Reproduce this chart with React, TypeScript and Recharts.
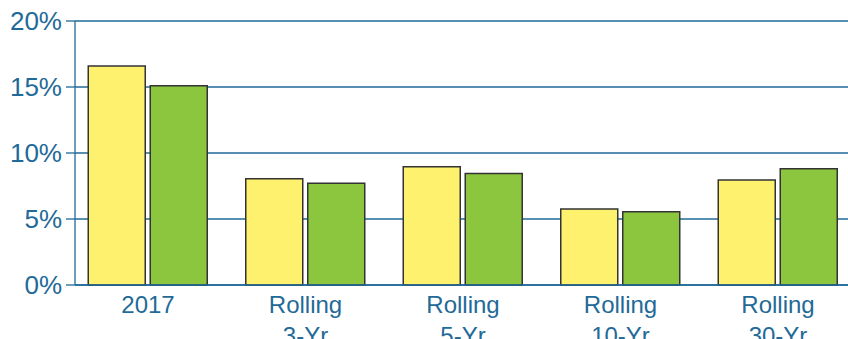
import * as React from 'react';
import { Bar, BarChart, CartesianGrid, XAxis, YAxis } from 'recharts';

const categories = ['2017', 'Rolling\n3-Yr', 'Rolling\n5-Yr', 'Rolling\n10-Yr', 'Rolling\n30-Yr'];
const yellowValues = [16.6, 8.05, 8.95, 5.75, 7.95];
const greenValues = [15.1, 7.7, 8.45, 5.55, 8.8];
const yTicks = [0, 5, 10, 15, 20];

const data = categories.map((name, i) => ({
  name,
  yellow: yellowValues[i],
  green: greenValues[i],
}));

const BLUE = '#1f6a98';
const FONT = '"Liberation Sans", Arial, sans-serif';

function CategoryTick(props: any) {
  const { x, y, payload } = props;
  const lines = String(payload.value).split('\n');
  return (
    <g transform={`translate(${x},${y})`}>
      {lines.map((line, i) => (
        <text
          key={i}
          x={0}
          y={20 + i * 31}
          textAnchor="middle"
          fill={BLUE}
          fontSize={24}
          fontFamily={FONT}
        >
          {line}
        </text>
      ))}
    </g>
  );
}

export default function App() {
  return (
    <div style={{ position: 'absolute', left: 0, top: 0, width: 848, height: 339, overflow: 'hidden', background: '#fff' }}>
      <BarChart
        width={848}
        height={339}
        data={data}
        margin={{ top: 21, right: 0, left: 0, bottom: 0 }}
        barSize={57}
        barGap={5}
      >
        <CartesianGrid vertical={false} stroke={BLUE} strokeWidth={1.3} />
        <XAxis
          dataKey="name"
          axisLine={{ stroke: BLUE, strokeWidth: 1.3 }}
          tickLine={false}
          tick={<CategoryTick />}
          interval={0}
          height={54}
          padding={{ left: -5.75, right: -8.75 }}
        />
        <YAxis
          domain={[0, 20]}
          ticks={yTicks}
          width={75}
          axisLine={{ stroke: BLUE, strokeWidth: 1.3 }}
          tickLine={{ stroke: BLUE, strokeWidth: 1.3 }}
          tickSize={9}
          tickMargin={4}
          tickFormatter={(v: number) => `${v}%`}
          tick={{ fill: BLUE, fontSize: 26, fontFamily: FONT }}
        />
        <Bar dataKey="yellow" fill="#fdf16e" stroke="#333" strokeWidth={1.5} isAnimationActive={false} />
        <Bar dataKey="green" fill="#8cc63f" stroke="#333" strokeWidth={1.5} isAnimationActive={false} />
      </BarChart>
    </div>
  );
}
